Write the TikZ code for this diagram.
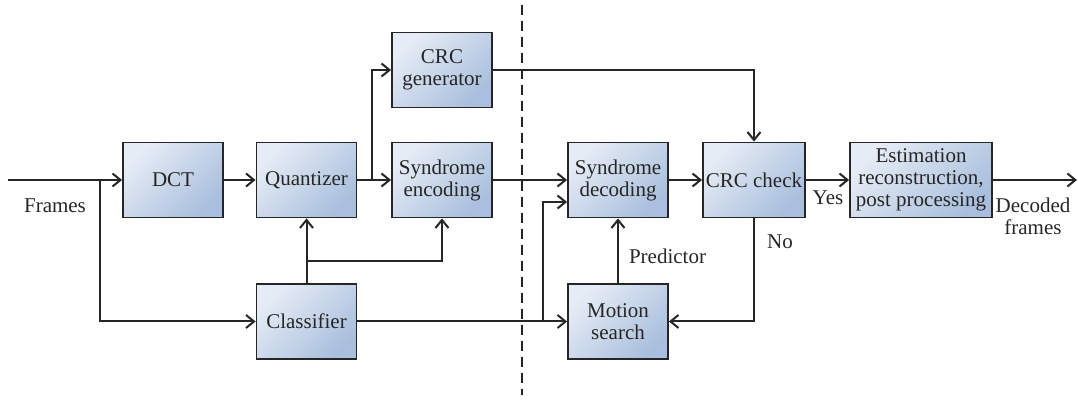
\documentclass[tikz,border=0pt]{standalone}
\usepackage{fontspec}
\setmainfont{Liberation Serif}
\usetikzlibrary{arrows.meta,positioning}
\definecolor{boxlight}{HTML}{E6ECF5}
\definecolor{boxdark}{HTML}{A9BFDD}
\definecolor{inkgray}{HTML}{262626}
\tikzset{
    block/.style = {draw=inkgray, line width=0.9pt, rectangle,
        top color=boxlight, bottom color=boxdark, shading angle=45,
        minimum height=37.5pt,
        minimum width=50pt, align=center, inner sep=1pt},
    arrow/.style = {draw=inkgray, ->},
    lbl/.style = {align=center, inner sep=0pt}
}

\begin{document}
\begin{tikzpicture}[x=0.5pt, y=-0.5pt, line width=1pt, text=inkgray,
    font=\fontsize{10.5}{11}\selectfont,
    >={Straight Barb[length=4pt,width=6.5pt]}]
    \useasboundingbox (0,0) rectangle (1078,400);
    % encoder side
    \node [block] (dct) at (173,180) {DCT};
    \node [block] (quant) at (306.5,180) {Quantizer};
    \node [block] (crcgen) at (442,70) {CRC\\generator};
    \node [block] (synenc) at (442,180) {Syndrome\\encoding};
    \node [block] (classif) at (306.5,321.5) {Classifier};
    % decoder side
    \node [block] (syndec) at (618,180) {Syndrome\\decoding};
    \node [block, minimum width=51pt] (crcchk) at (754,180) {CRC check};
    \node [block] (motion) at (618,321.5) {Motion\\search};
    \node [block, minimum width=71pt] (estim) at (921,180) {Estimation\\reconstruction,\\post processing};
    \coordinate (in) at (8,180);
    \coordinate (out) at (1077,180);
    \coordinate (split) at (100,180);
    \coordinate (qsplit) at (372,180);
    \coordinate (csplit) at (306.5,261);
    \coordinate (msplit) at (543,321.5);
    \coordinate (cuttop) at (522,5);
    \coordinate (cutbot) at (522,395);
    \draw [inkgray, line width=0.8pt, dash pattern=on 5pt off 3pt] (cuttop) -- (cutbot);
    \draw [arrow] (in) -- (dct);
    \node [lbl] (frames) at (55,206) {Frames};
    \draw [arrow] (split) |- (classif);
    \draw [arrow] (dct) -- (quant);
    \draw [arrow] (quant) -- (synenc);
    \draw [arrow] (qsplit) |- (crcgen);
    \draw [arrow] (classif) -- (quant);
    \draw [arrow] (csplit) -| (synenc);
    \draw [arrow] (synenc) -- (syndec);
    \draw [arrow] (crcgen) -| (crcchk);
    \draw [arrow] (syndec) -- (crcchk);
    \draw [arrow] (classif) -- (motion);
    \draw [arrow] (msplit) |- ([yshift=-11pt]syndec.west);
    \draw [arrow] (motion) -- (syndec);
    \node [lbl] (pred) at (667.5,256) {Predictor};
    \draw [arrow] (crcchk) |- (motion);
    \node [lbl] (no) at (780,242) {No};
    \draw [arrow] (crcchk) -- (estim);
    \node [lbl] (yes) at (828,198) {Yes};
    \draw [arrow] (estim) -- (out);
    \node [lbl] (decoded) at (1033,216) {Decoded\\frames};
\end{tikzpicture}
\end{document}
